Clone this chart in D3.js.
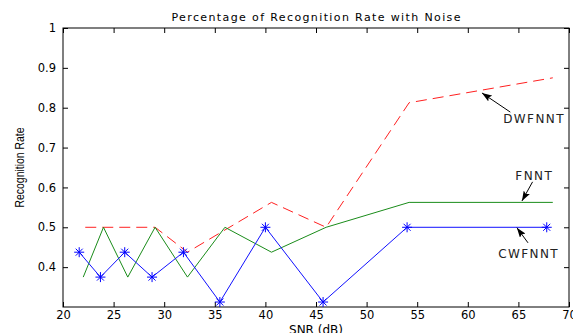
<!DOCTYPE html>
<html>
<head>
<meta charset="utf-8">
<script src="https://cdn.jsdelivr.net/npm/d3@7"></script>
<style>
  html, body { margin: 0; padding: 0; background: #fff; }
  svg { display: block; font-family: "DejaVu Sans", sans-serif; }
</style>
</head>
<body>
<div id="chart"></div>
<script>
const snrCw = [21.6, 23.7, 26.1, 28.8, 31.9, 35.5, 40.0, 45.7, 54.0, 67.8]
const cwfnnt = [0.4375, 0.375, 0.4375, 0.375, 0.4375, 0.3125, 0.5, 0.3125, 0.5, 0.5]

const snrF = [22.0, 24.0, 26.4, 29.1, 32.3, 36.0, 40.6, 46.0, 54.2, 68.4]
const fnnt = [0.375, 0.5, 0.375, 0.5, 0.375, 0.5, 0.4375, 0.5, 0.5625, 0.5625]

const snrD = [22.2, 29.1, 32.3, 40.6, 46.0, 54.2, 68.4]
const dwfnnt = [0.5, 0.5, 0.4375, 0.5625, 0.5, 0.8125, 0.875]

const xTicks = [20, 25, 30, 35, 40, 45, 50, 55, 60, 65, 70]
const yTicks = [0.4, 0.5, 0.6, 0.7, 0.8, 0.9, 1]

// label text, text anchor, arrow tail, arrow head (data units)
const notes = [
  { text: 'DWFNNT', tx: 63.5, ty: 0.762, x1: 64.2, y1: 0.789, x2: 61.4, y2: 0.837 },
  { text: 'FNNT', tx: 64.7, ty: 0.619, x1: 66.4, y1: 0.614, x2: 65.35, y2: 0.566 },
  { text: 'CWFNNT', tx: 63.0, ty: 0.423, x1: 65.95, y1: 0.461, x2: 64.85, y2: 0.499 }
]

const width = 573
const height = 333
const margin = { top: 28, right: 4, bottom: 26, left: 63 }

const svg = d3.select('#chart')
  .append('svg')
  .attr('width', width)
  .attr('height', height)

const x = d3.scaleLinear().domain([20, 70]).range([margin.left, width - margin.right])
const y = d3.scaleLinear().domain([0.3, 1]).range([height - margin.bottom, margin.top])

svg.append('defs').append('marker')
  .attr('id', 'head')
  .attr('viewBox', '0 -3.5 10 7')
  .attr('refX', 10)
  .attr('refY', 0)
  .attr('markerWidth', 10)
  .attr('markerHeight', 7)
  .attr('markerUnits', 'userSpaceOnUse')
  .attr('orient', 'auto')
  .append('path')
  .attr('d', 'M0,-3.5L10,0L0,3.5L2,0Z')
  .attr('fill', '#000')

const tickLen = 5
const g = svg.append('g')

// box
g.append('rect')
  .attr('x', x(20)).attr('y', y(1))
  .attr('width', x(70) - x(20)).attr('height', y(0.3) - y(1))
  .attr('fill', '#fff').attr('stroke', '#000').attr('stroke-width', 1)

// inward ticks on all four sides
const xAxisB = d3.axisBottom(x).tickValues(xTicks).tickSize(-tickLen).tickPadding(4).tickFormat(d3.format('d'))
const xAxisT = d3.axisTop(x).tickValues(xTicks).tickSize(-tickLen).tickFormat('')
const yAxisL = d3.axisLeft(y).tickValues(yTicks).tickSize(-tickLen).tickPadding(7).tickFormat(d => d === 1 ? '1' : d3.format('.1f')(d))
const yAxisR = d3.axisRight(y).tickValues(yTicks).tickSize(-tickLen).tickFormat('')

function styleAxis(sel) {
  sel.select('.domain').remove()
  sel.selectAll('line').attr('stroke', '#000')
  sel.selectAll('text').attr('fill', '#000').attr('font-size', '11.5px')
    .attr('font-family', '"DejaVu Sans", sans-serif')
}

g.append('g').attr('transform', `translate(0,${y(0.3)})`).call(xAxisB).call(styleAxis)
g.append('g').attr('transform', `translate(0,${y(1)})`).call(xAxisT).call(styleAxis)
g.append('g').attr('transform', `translate(${x(20)},0)`).call(yAxisL).call(styleAxis)
g.append('g').attr('transform', `translate(${x(70)},0)`).call(yAxisR).call(styleAxis)

const line = d3.line().x(d => x(d[0])).y(d => y(d[1]))

g.append('path')
  .datum(d3.zip(snrD, dwfnnt))
  .attr('d', line)
  .attr('fill', 'none').attr('stroke', '#ff2020').attr('stroke-width', 1)
  .attr('stroke-dasharray', '11,6')

g.append('path')
  .datum(d3.zip(snrF, fnnt))
  .attr('d', line)
  .attr('fill', 'none').attr('stroke', '#1a8c1a').attr('stroke-width', 1)

g.append('path')
  .datum(d3.zip(snrCw, cwfnnt))
  .attr('d', line)
  .attr('fill', 'none').attr('stroke', '#1010ff').attr('stroke-width', 1)

// asterisk markers
const r = 5
const stars = g.append('g').selectAll('g')
  .data(d3.zip(snrCw, cwfnnt))
  .join('g')
  .attr('transform', d => `translate(${x(d[0])},${y(d[1])})`)
  .attr('stroke', '#0000ff').attr('stroke-width', 1)

stars.append('line').attr('x1', -r).attr('x2', r).attr('y1', 0).attr('y2', 0)
stars.append('line').attr('x1', 0).attr('x2', 0).attr('y1', -r).attr('y2', r)
stars.append('line').attr('x1', -r * 0.7).attr('x2', r * 0.7).attr('y1', -r * 0.7).attr('y2', r * 0.7)
stars.append('line').attr('x1', -r * 0.7).attr('x2', r * 0.7).attr('y1', r * 0.7).attr('y2', -r * 0.7)

// annotations
const ann = g.append('g').selectAll('g').data(notes).join('g')
ann.append('line')
  .attr('x1', d => x(d.x1)).attr('y1', d => y(d.y1))
  .attr('x2', d => x(d.x2)).attr('y2', d => y(d.y2))
  .attr('stroke', '#000').attr('stroke-width', 1)
  .attr('marker-end', 'url(#head)')
ann.append('text')
  .attr('x', d => x(d.tx)).attr('y', d => y(d.ty))
  .attr('font-size', '12px').attr('fill', '#222')
  .attr('letter-spacing', '1.4px')
  .text(d => d.text)

// title and labels
svg.append('text')
  .attr('x', 316).attr('y', 21)
  .attr('text-anchor', 'middle')
  .attr('font-size', '11px')
  .attr('textLength', 289).attr('lengthAdjust', 'spacing')
  .text('Percentage of Recognition Rate with Noise')

svg.append('text')
  .attr('x', 316).attr('y', 334)
  .attr('text-anchor', 'middle')
  .attr('font-size', '12px')
  .text('SNR (dB)')

svg.append('text')
  .attr('transform', `translate(24,${(y(0.3) + y(1)) / 2}) rotate(-90)`)
  .attr('text-anchor', 'middle')
  .attr('font-family', '"Liberation Sans", Arial, sans-serif')
  .attr('font-size', '12px')
  .attr('textLength', 80).attr('lengthAdjust', 'spacingAndGlyphs')
  .text('Recognition Rate')
</script>
</body>
</html>
